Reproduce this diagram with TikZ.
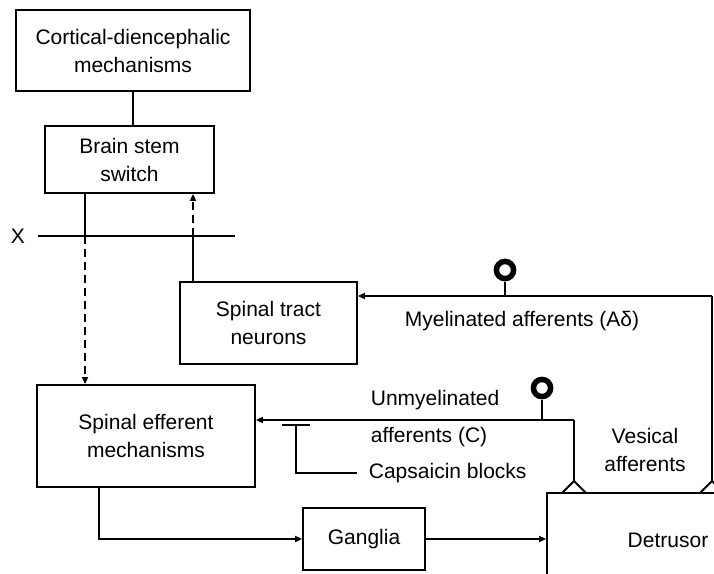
\documentclass[tikz,border=0pt]{standalone}
\usepackage{fontspec}
\setmainfont{Liberation Sans}
\usetikzlibrary{arrows.meta}
\begin{document}
\begin{tikzpicture}[x=1pt,y=-1pt,line width=1.8pt,
  every node/.style={font=\fontsize{21}{28}\selectfont,inner sep=0pt},
  box/.style={draw,align=center},
  arr/.style={-{Triangle[length=7pt,width=6pt]}},
  dsh/.style={dash pattern=on 8pt off 5pt},
  pin/.style={line width=5.5pt}]
  \useasboundingbox (0,0) rectangle (714,573); \clip (0,0) rectangle (714,573);
  % boxes
  \node[box,minimum width=234,minimum height=81] (cortex) at (133,50.5) {Cortical-diencephalic\\mechanisms};
  \node[box,minimum width=169,minimum height=67] (stem) at (129.5,159.5) {Brain stem\\switch};
  \node[box,minimum width=177,minimum height=82] (tract) at (268.5,323) {Spinal tract\\neurons};
  \node[box,minimum width=218,minimum height=102] (effer) at (146,436) {Spinal efferent\\mechanisms};
  \node[box,minimum width=122,minimum height=62] (gang) at (364,539) {Ganglia};
  \node[box,minimum width=242,minimum height=95] (detr) at (668,540.5) {Detrusor};
  % X level
  \node (xlab) at (18,236) {X};
  \coordinate (xa) at (85,236); \coordinate (xb) at (193,236);
  \draw (38,236) -- (235,236);
  \draw (cortex.south) -- (cortex.south |- stem.north);
  \draw (xa |- stem.south) -- (xa); \draw[arr,dsh] (xa) -- (xa |- effer.north);
  \draw (xb |- tract.north) -- (xb); \draw[arr,dsh] (xb) -- (xb |- stem.south);
  % myelinated afferents
  \coordinate (mr) at (712,296); \coordinate (mp) at (505,296);
  \draw[arr] (mr) -- (tract.east |- mr);
  \draw (mr) -- (712,481) ++(-12,12) -- ++(12,-12) -- ++(12,12);
  \draw (mp) -- ++(0,-14); \draw[pin] (505,270) circle[radius=8.6];
  \node (myel) at (522,321) {Myelinated afferents (Aδ)};
  % unmyelinated afferents
  \coordinate (ur) at (574,420); \coordinate (up) at (542,420);
  \draw[arr] (ur) -- (effer.east |- ur);
  \draw (ur) -- (574,481) ++(-12,12) -- ++(12,-12) -- ++(12,12);
  \draw (up) -- ++(0,-20); \draw[pin] (542,388) circle[radius=8.6];
  \node[anchor=west] (unmy) at (370,400) {Unmyelinated};
  \node[anchor=west] (unmc) at (370,437) {afferents (C)};
  \node[align=center] (vesic) at (645,450) {Vesical\\afferents};
  % capsaicin
  \draw (282,425) -- (310,425); \draw (296,425) |- (357,473);
  \node[anchor=west] (caps) at (368,473) {Capsaicin blocks};
  % efferent path
  \draw[arr] ([xshift=-47pt]effer.south) |- (gang.west);
  \draw[arr] (gang.east) -- (gang.east -| detr.west);
\end{tikzpicture}
\end{document}
